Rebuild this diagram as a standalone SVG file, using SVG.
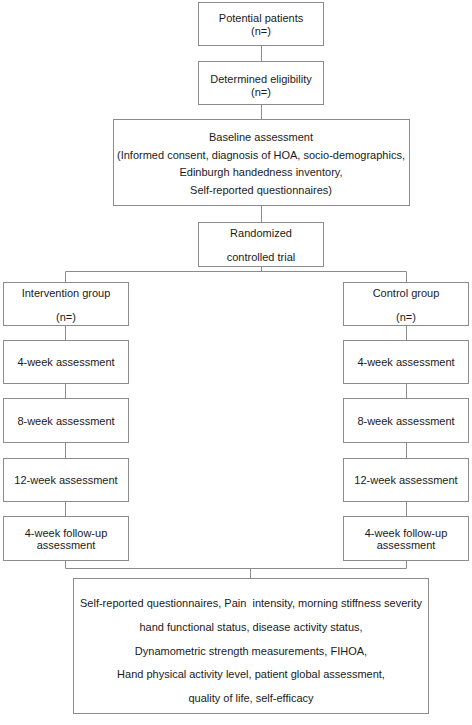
<svg xmlns="http://www.w3.org/2000/svg" width="472" height="725" viewBox="0 0 472 725">
<style>
.box{fill:#fff;stroke:#8c8c8c;stroke-width:1}
.ln{fill:none;stroke:#8c8c8c;stroke-width:1}
text{font-family:"Liberation Sans",Arial,sans-serif;font-size:11px;fill:#1a1a1a;text-anchor:middle;dominant-baseline:central}
.pre{white-space:pre}
</style>
<rect width="472" height="725" fill="#fff"/>
<g id="connectors">
<line class="ln" x1="261.5" y1="45" x2="261.5" y2="61"/>
<line class="ln" x1="261.5" y1="105" x2="261.5" y2="119"/>
<line class="ln" x1="261.5" y1="205" x2="261.5" y2="222"/>
<line class="ln" x1="261.5" y1="266" x2="261.5" y2="271.5"/>
<polyline class="ln" points="65.5,282 65.5,271.5 406.5,271.5 406.5,282"/>
<line class="ln" x1="65.5" y1="325" x2="65.5" y2="340"/>
<line class="ln" x1="65.5" y1="383" x2="65.5" y2="398"/>
<line class="ln" x1="65.5" y1="443" x2="65.5" y2="458"/>
<line class="ln" x1="65.5" y1="501" x2="65.5" y2="516"/>
<line class="ln" x1="406.5" y1="325" x2="406.5" y2="340"/>
<line class="ln" x1="406.5" y1="383" x2="406.5" y2="398"/>
<line class="ln" x1="406.5" y1="443" x2="406.5" y2="458"/>
<line class="ln" x1="406.5" y1="501" x2="406.5" y2="516"/>
<polyline class="ln" points="65.5,560 65.5,568.5 406.5,568.5 406.5,560"/>
<line class="ln" x1="250.5" y1="568.5" x2="250.5" y2="578"/>
</g>
<g id="potential">
<rect class="box" x="198.5" y="2.5" width="125" height="43"/>
<text x="261" y="18">Potential patients</text>
<text x="261" y="31">(n=)</text>
</g>
<g id="eligibility">
<rect class="box" x="198.5" y="61.5" width="125" height="43"/>
<text x="261" y="79">Determined eligibility</text>
<text x="261" y="92">(n=)</text>
</g>
<g id="baseline">
<rect class="box" x="113.5" y="119.5" width="296" height="86"/>
<text x="261" y="137">Baseline assessment</text>
<text x="261" y="155">(Informed consent, diagnosis of HOA, socio-demographics,</text>
<text x="261" y="172">Edinburgh handedness inventory,</text>
<text x="261" y="189.5">Self-reported questionnaires)</text>
</g>
<g id="randomized">
<rect class="box" x="198.5" y="222.5" width="125" height="44"/>
<text x="261" y="233">Randomized</text>
<text x="261" y="256.5">controlled trial</text>
</g>
<g id="intervention">
<rect class="box" x="3.5" y="282.5" width="125" height="43"/>
<text x="66" y="292.5">Intervention group</text>
<text x="66" y="316.5">(n=)</text>
</g>
<g id="control">
<rect class="box" x="343.5" y="282.5" width="125" height="43"/>
<text x="406" y="292.5">Control group</text>
<text x="406" y="316.5">(n=)</text>
</g>
<g id="int4">
<rect class="box" x="3.5" y="340.5" width="125" height="43"/>
<text x="66" y="362">4-week assessment</text>
</g>
<g id="ctl4">
<rect class="box" x="343.5" y="340.5" width="125" height="43"/>
<text x="406" y="362">4-week assessment</text>
</g>
<g id="int8">
<rect class="box" x="3.5" y="398.5" width="125" height="44"/>
<text x="66" y="421">8-week assessment</text>
</g>
<g id="ctl8">
<rect class="box" x="343.5" y="398.5" width="125" height="44"/>
<text x="406" y="421">8-week assessment</text>
</g>
<g id="int12">
<rect class="box" x="3.5" y="458.5" width="125" height="43"/>
<text x="66" y="480">12-week assessment</text>
</g>
<g id="ctl12">
<rect class="box" x="343.5" y="458.5" width="125" height="43"/>
<text x="406" y="480">12-week assessment</text>
</g>
<g id="intfu">
<rect class="box" x="3.5" y="516.5" width="125" height="44"/>
<text x="66" y="533">4-week follow-up</text>
<text x="66" y="545">assessment</text>
</g>
<g id="ctlfu">
<rect class="box" x="343.5" y="516.5" width="125" height="44"/>
<text x="406" y="533">4-week follow-up</text>
<text x="406" y="545">assessment</text>
</g>
<g id="outcomes">
<rect class="box" x="73.5" y="578.5" width="355" height="135"/>
<text class="pre" x="251" y="603">Self-reported questionnaires, Pain  intensity, morning stiffness severity</text>
<text x="251" y="627">hand functional status, disease activity status,</text>
<text x="251" y="650.5">Dynamometric strength measurements, FIHOA,</text>
<text x="251" y="674">Hand physical activity level, patient global assessment,</text>
<text x="251" y="697.5">quality of life, self-efficacy</text>
</g>
</svg>
